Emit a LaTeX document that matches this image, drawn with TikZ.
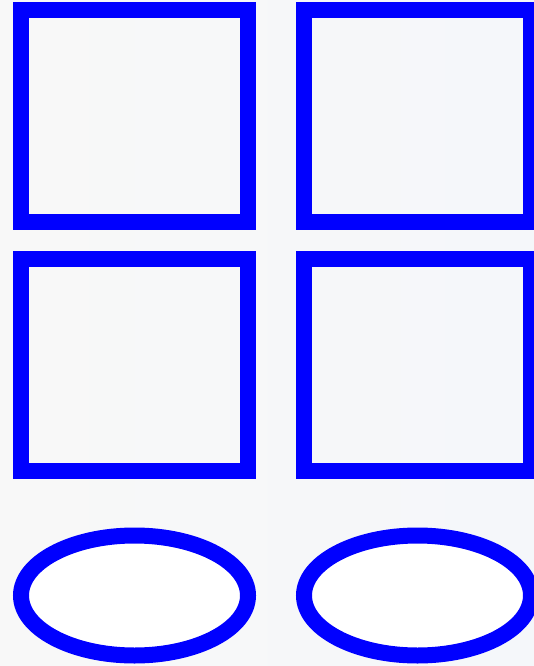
\documentclass[tikz,border=0pt]{standalone}
\usepackage{tikz}
\usetikzlibrary{positioning,shapes.geometric}
\definecolor{edge}{HTML}{0000FF}
\definecolor{paper}{HTML}{F8F8F8}
\definecolor{paperb}{HTML}{F5F7FA}
\tikzset{
  panel/.style={draw=edge, line width=16pt, fill=none, inner sep=0pt,
                minimum width=227pt, minimum height=212pt},
  blob/.style={ellipse, draw=edge, line width=16pt, fill=white, inner sep=0pt,
               minimum width=227pt, minimum height=120pt},
}
\begin{document}
\begin{tikzpicture}[x=1pt, y=-1pt, node distance=20.5pt and 40pt]
\fill[left color=paper, right color=paperb] (0,0) rectangle (534,666);
\useasboundingbox (0,0) rectangle (534,666);

\node[panel] (nw) at (134.5,116) {};
\node[panel] (ne) [right=of nw] {};
\node[panel] (sw) [below=of nw] {};
\node[panel] (se) [right=of sw] {};

\node[blob] (ow) [below=49pt of sw] {};
\node[blob] (oe) [right=of ow] {};
\end{tikzpicture}
\end{document}
